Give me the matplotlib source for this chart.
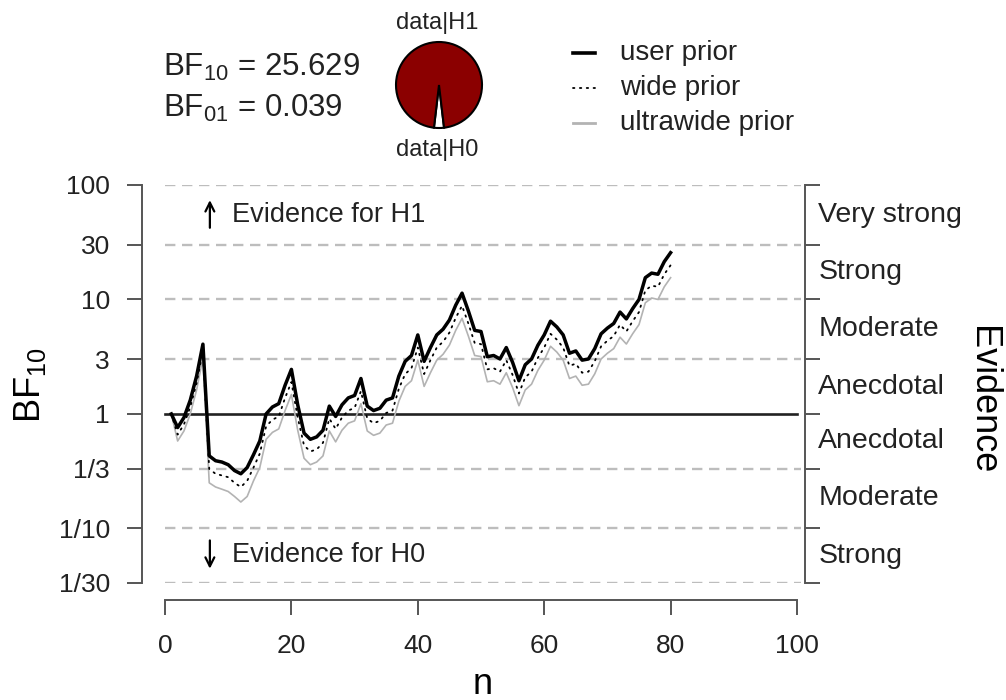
import numpy as np
import matplotlib
matplotlib.use('Agg')
import matplotlib.pyplot as plt
import matplotlib.transforms as mtransforms
from matplotlib.lines import Line2D
from matplotlib.ticker import NullLocator

plt.rcParams['font.family'] = ['Liberation Sans', 'DejaVu Sans']
plt.rcParams['mathtext.default'] = 'regular'

# sequential Bayes factor, one value per observation
n = np.arange(1, 81)
bf_user = [1.00, 0.76, 0.93, 1.32, 2.14, 4.07, 0.43, 0.39, 0.38, 0.36,
           0.32, 0.30, 0.34, 0.44, 0.58, 1.00, 1.15, 1.23, 1.78, 2.45,
           1.20, 0.68, 0.60, 0.63, 0.72, 1.17, 0.95, 1.20, 1.38, 1.45,
           2.04, 1.17, 1.07, 1.12, 1.32, 1.38, 2.14, 2.88, 3.24, 4.90,
           2.88, 3.80, 4.90, 5.50, 6.61, 8.91, 11.35, 7.94, 5.37, 5.25,
           3.16, 3.24, 3.02, 3.80, 2.82, 1.95, 2.69, 3.02, 3.98, 4.90,
           6.46, 5.75, 4.90, 3.39, 3.55, 2.95, 3.02, 3.72, 5.01, 5.62,
           6.17, 7.76, 6.76, 8.32, 10.0, 15.5, 17.0, 16.6, 21.4, 25.629]
bf_wide = [1.00, 0.66, 0.81, 1.15, 1.86, 3.55, 0.33, 0.30, 0.29, 0.28,
           0.25, 0.23, 0.26, 0.34, 0.45, 0.78, 0.89, 0.95, 1.38, 1.90,
           0.93, 0.53, 0.47, 0.49, 0.56, 0.91, 0.74, 0.93, 1.07, 1.13,
           1.58, 0.91, 0.83, 0.87, 1.02, 1.07, 1.66, 2.23, 2.51, 3.80,
           2.23, 2.95, 3.80, 4.27, 5.13, 6.91, 8.81, 6.16, 4.17, 4.07,
           2.45, 2.51, 2.34, 2.95, 2.19, 1.51, 2.09, 2.34, 3.09, 3.80,
           5.01, 4.46, 3.80, 2.63, 2.75, 2.29, 2.34, 2.89, 3.89, 4.36,
           4.79, 6.02, 5.25, 6.46, 7.76, 12.0, 13.2, 12.9, 16.6, 19.9]
bf_ultrawide = [1.00, 0.58, 0.71, 1.00, 1.62, 3.09, 0.25, 0.23, 0.22, 0.21,
                0.19, 0.17, 0.19, 0.26, 0.34, 0.60, 0.69, 0.74, 1.07, 1.48,
                0.72, 0.41, 0.36, 0.38, 0.43, 0.71, 0.57, 0.72, 0.83, 0.87,
                1.23, 0.71, 0.65, 0.68, 0.80, 0.83, 1.29, 1.74, 1.95, 2.95,
                1.74, 2.29, 2.95, 3.32, 3.99, 5.37, 6.84, 4.79, 3.24, 3.17,
                1.91, 1.95, 1.82, 2.29, 1.70, 1.18, 1.62, 1.82, 2.40, 2.95,
                3.90, 3.47, 2.95, 2.04, 2.14, 1.78, 1.82, 2.24, 3.02, 3.39,
                3.72, 4.68, 4.08, 5.02, 6.03, 9.35, 10.3, 10.0, 12.9, 15.5]

bf10 = 25.629
bf01 = 0.039

bf_ticks = [1/30, 1/10, 1/3, 1, 3, 10, 30, 100]
bf_ticklabels = ['1/30', '1/10', '1/3', '1', '3', '10', '30', '100']
evidence_labels = ['Strong', 'Moderate', 'Anecdotal', 'Anecdotal',
                   'Moderate', 'Strong', 'Very strong']

W, H = 1006, 700
fig = plt.figure(figsize=(W / 100, H / 100), dpi=100)
ax = fig.add_axes([142 / W, 1 - 583 / H, 663 / W, 398 / H])
ax.set_yscale('log')
ax.set_xlim(-23 / 6.32, 640 / 6.32)
ax.set_ylim(1 / 30, 100)

# evidence category boundaries
for t in bf_ticks:
    if t == 1:
        continue
    ax.plot([0, 100.6], [t, t], color='#bdbdbd', lw=1.7, dashes=(4.4, 2.8), zorder=1)
ax.plot([0, 100], [1, 1], color='#222222', lw=1.9, zorder=2)

ax.plot(n, bf_ultrawide, color='#b3b3b3', lw=1.2, zorder=3)
ax.plot(n, bf_wide, color='black', lw=1.3, ls=(0, (0.8, 3)), dash_capstyle='round', zorder=4)
ax.plot(n, bf_user, color='black', lw=2.5, zorder=5)

# spines / ticks
for s in ['left', 'right', 'bottom']:
    ax.spines[s].set_color('#555555')
    ax.spines[s].set_linewidth(1.4)
ax.spines['top'].set_visible(False)
ax.spines['left'].set_bounds(1 / 30, 100)
ax.spines['right'].set_bounds(1 / 30, 100)
ax.spines['bottom'].set_position(('outward', 12))
ax.spines['bottom'].set_bounds(0, 100)

ax.set_yticks(bf_ticks)
ax.set_yticklabels(bf_ticklabels)
ax.yaxis.set_minor_locator(NullLocator())
ax.set_xticks([0, 20, 40, 60, 80, 100])
ax.tick_params(axis='y', left=True, right=True, labelleft=True, labelright=False,
               direction='out', length=11, width=1.4, color='#555555',
               labelsize=19, pad=12, labelcolor='#222222')
ax.tick_params(axis='x', direction='out', length=11, width=1.4, color='#555555',
               labelsize=19, pad=14, labelcolor='#222222')

# evidence categories on the right
trans = mtransforms.blended_transform_factory(ax.transAxes, ax.transData)
for lo, hi, lab in zip(bf_ticks[:-1], bf_ticks[1:], evidence_labels):
    ax.text(1.02, np.sqrt(lo * hi), lab, transform=trans, ha='left', va='center',
            fontsize=20.5, color='#222222')
ax.text(1.268, 0.46, 'Evidence', transform=ax.transAxes, rotation=-90,
        ha='center', va='center', fontsize=26, color='black')

# direction arrows
ax.annotate('', xy=(7.1, 78), xytext=(7.1, 40),
            arrowprops=dict(arrowstyle='->', lw=1.6, color='black', mutation_scale=16))
ax.text(10.6, 55, 'Evidence for H1', ha='left', va='center', fontsize=19.5, color='#222222')
ax.annotate('', xy=(7.1, 0.042), xytext=(7.1, 0.083),
            arrowprops=dict(arrowstyle='->', lw=1.6, color='black', mutation_scale=16))
ax.text(10.6, 0.059, 'Evidence for H0', ha='left', va='center', fontsize=19.5, color='#222222')

fig.text(30 / W, 1 - 385 / H, 'BF$_{10}$', rotation=90, ha='center', va='center', fontsize=26)
fig.text(483 / W, 1 - 694 / H, 'n', ha='center', va='baseline', fontsize=26)

# Bayes factor values
fig.text(163 / W, 1 - 67 / H, f'BF$_{{10}}$ = {bf10:.3f}', ha='left', va='center', fontsize=22.5,
         color='#222222')
fig.text(163 / W, 1 - 108 / H, f'BF$_{{01}}$ = {bf01:.3f}', ha='left', va='center', fontsize=22.5,
         color='#222222')

# probability wheel
r = 43 * 1.03
pax = fig.add_axes([(439 - r) / W, 1 - (85 + r) / H, 2 * r / W, 2 * r / H])
p0 = 1 / (1 + bf10)
pax.pie([1, bf10], colors=['white', '#8b0000'], startangle=270 - 180 * p0,
        wedgeprops=dict(edgecolor='black', linewidth=1.5))
pax.set_xlim(-1.03, 1.03)
pax.set_ylim(-1.03, 1.03)
pax.set_aspect('equal')
fig.text(437 / W, 1 - 23 / H, 'data|H1', ha='center', va='center', fontsize=17, color='#222222')
fig.text(437 / W, 1 - 150 / H, 'data|H0', ha='center', va='center', fontsize=17, color='#222222')

# legend
legend_items = [('user prior', dict(color='black', lw=2.6)),
                ('wide prior', dict(color='black', lw=1.3, ls=(0, (0.8, 3)), dash_capstyle='round')),
                ('ultrawide prior', dict(color='#b3b3b3', lw=2.0))]
for i, (lab, style) in enumerate(legend_items):
    y = 1 - (53 + 35 * i) / H
    fig.add_artist(Line2D([573 / W, 595 / W], [y, y], transform=fig.transFigure, **style))
    fig.text(620 / W, y, lab, ha='left', va='center', fontsize=20, color='#222222')

fig.savefig('out.png', dpi=100)
